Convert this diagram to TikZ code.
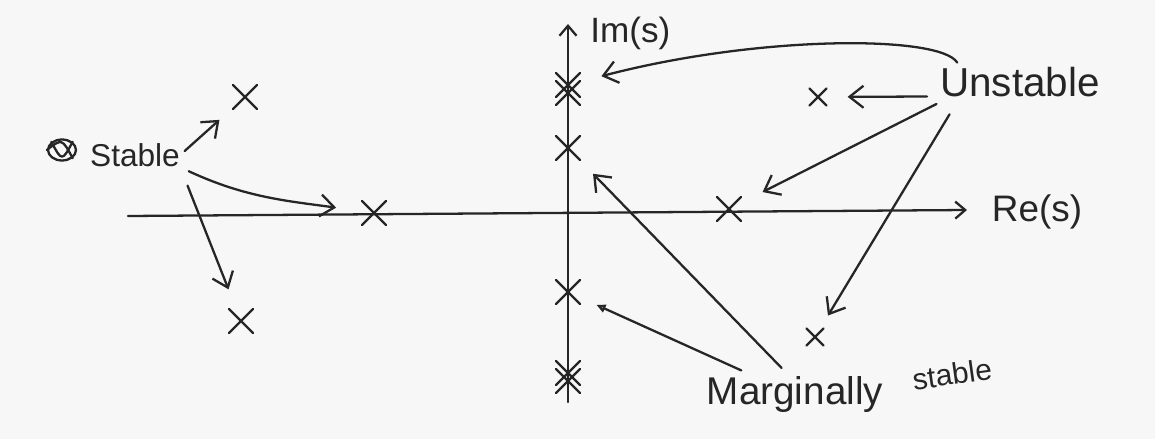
\documentclass[tikz,border=0pt]{standalone}
\usepackage{fontspec}
\setmainfont{Liberation Sans}
\usetikzlibrary{arrows.meta,shapes.misc,shapes.geometric}

\begin{document}
\begin{tikzpicture}[
    x=0.02cm,y=-0.02cm,
    line cap=round,
    line join=round,
    ink/.style={draw=black!85, line width=1.3pt},
    pole/.style={cross out, draw=black!85, line width=1.3pt, minimum size=0.44cm, inner sep=0pt},
    smallpole/.style={pole, minimum size=0.3cm},
    axisline/.style={ink, -{Straight Barb[length=2mm,width=3.4mm]}},
    pointer/.style={ink, -{Straight Barb[length=2.8mm,width=4.4mm]}},
    loopptr/.style={ink, -{Triangle[open,length=1.8mm,width=1.6mm]}},
    hand/.style={text=black!85, inner sep=0pt},
]

\fill[black!3] (0,0) rectangle (1155,439);
\useasboundingbox (0,0) rectangle (1155,439);

% axes
\coordinate (reL) at (128,216);
\coordinate (reR) at (967,210);
\coordinate (imB) at (568,402);
\coordinate (imT) at (568,24);
\draw[axisline] (reL) -- (reR);
\draw[axisline] (imB) -- (imT);
\node[hand, font=\fontsize{21}{24}\selectfont] (re) at (1037,212) {Re(s)};
\node[hand, font=\fontsize{20}{24}\selectfont, anchor=west] (im) at (590,33) {Im(s)};

% poles, left half plane
\node[pole] (pL1) at (245,97) {};
\node[pole] (pL2) at (374,213) {};
\node[pole] (pL3) at (241,321) {};

% poles on the imaginary axis
\node[pole] (pI1) at (568,85) {};
\node[pole] (pI1b) at (568,93) {};
\node[pole] (pI2) at (568,148) {};
\node[pole] (pI3) at (568,292) {};
\node[pole] (pI4) at (568,373) {};
\node[pole] (pI4b) at (568,381) {};

% poles, right half plane
\node[smallpole] (pR1) at (818,97) {};
\node[pole] (pR2) at (729,209) {};
\node[smallpole] (pR3) at (815,337) {};

% labels
\node[hand, font=\fontsize{18}{21}\selectfont] (stable) at (135,155) {Stable};
\node[ellipse, draw=black!85, line width=1.3pt, minimum width=0.56cm, minimum height=0.42cm, inner sep=0pt] (scrib) at (62,150) {};
\draw[ink] (scrib.north west) .. controls (scrib.south) .. (scrib.north east);
\draw[ink] (scrib.west) .. controls (scrib.north) .. (scrib.south east);
\node[hand, font=\fontsize{23}{26}\selectfont] (unstable) at (1020,82) {Unstable};
\node[hand, font=\fontsize{22}{26}\selectfont] (marg) at (795,395) {Marginally};
\node[hand, font=\fontsize{17}{20}\selectfont, rotate=8] (margst) at (952,374) {stable};

% stable
\draw[pointer, shorten <=0.12cm, shorten >=0.36cm] (stable.east) -- (pL1);
\draw[pointer, shorten <=0.2cm, shorten >=0.52cm] (stable.-15) to[out=-25,in=172] (pL2);
\draw[pointer, shorten <=0.4cm, shorten >=0.42cm] (stable.south east) -- (pL3);

% unstable
\draw[pointer, shorten <=0.1cm, shorten >=0.44cm]
    ([xshift=0.4cm]unstable.north west) .. controls +(-20,-32) and +(190,-50) .. (pI1);
\draw[pointer, shorten <=0.26cm, shorten >=0.42cm] (unstable.base west) -- (pR1);
\draw[pointer, shorten <=0.3cm, shorten >=0.48cm] ([xshift=0.2cm]unstable.south west) -- (pR2);
\draw[pointer, shorten <=0.4cm, shorten >=0.3cm] ([xshift=0.4cm]unstable.south west) -- (pR3);

% marginally stable
\draw[loopptr, shorten <=0.3cm, shorten >=0.36cm] ([xshift=-0.8cm]marg.north) -- (pI3);
\draw[pointer, shorten <=0.24cm, shorten >=0.38cm] ([xshift=-0.1cm]marg.north) -- (pI2);
\end{tikzpicture}
\end{document}
